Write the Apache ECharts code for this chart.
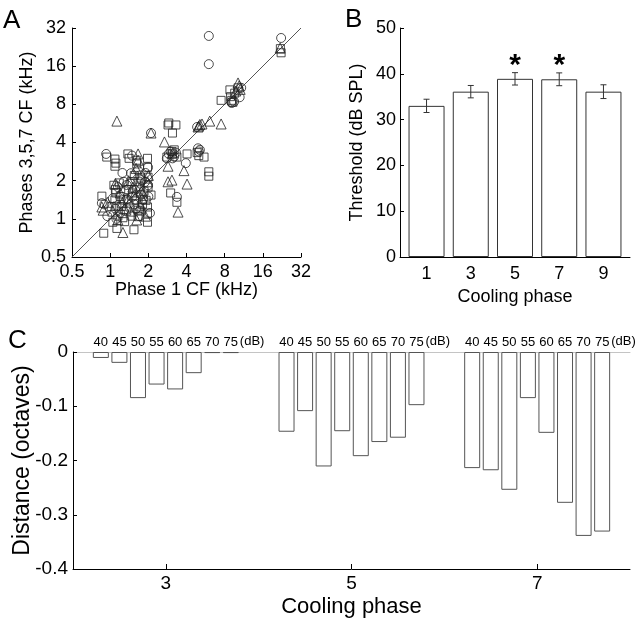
<!DOCTYPE html>
<html>
<head>
<meta charset="utf-8">
<script src="https://cdn.jsdelivr.net/npm/echarts@6/dist/echarts.min.js"></script>
<style>
  html, body { margin: 0; padding: 0; background: #fff; }
  #main { width: 637px; height: 620px; }
</style>
</head>
<body>
<div id="main"></div>
<script>
// ---- panel A: CF in phase 1 vs CF in phases 3,5,7 (kHz), one list per marker shape
const circleCF = [
  [6.0, 27.7], [6.0, 16.6], [22.3, 26.7], [0.93, 3.25], [1.49, 3.15], [1.46, 2.29], [1.72, 2.2],
  [1.99, 2.55], [1.28, 1.96], [1.36, 1.43], [1.49, 1.49], [0.86, 1.33], [1.99, 1.84], [1.81, 1.41],
  [1.57, 1.69], [1.15, 1.78], [1.77, 2.02], [1.2, 1.11], [2.06, 1.11], [2.9, 3.25], [3.0, 3.4],
  [2.8, 3.0], [3.3, 3.33], [3.95, 2.75], [3.36, 1.49], [4.93, 3.6], [5.0, 3.4], [4.85, 5.3],
  [9.0, 8.35], [9.1, 8.2], [10.5, 9.1], [0.9, 1.3], [1.1, 1.2], [1.66, 2.4], [1.9, 2.3], [1.3, 1.65],
  [2.1, 4.75], [1.12, 1.0], [1.6, 1.2], [1.75, 1.55], [3.2, 3.1], [5.1, 3.5], [10.8, 10.8],
  [9.5, 8.4], [2.0, 1.5], [1.05, 1.45], [1.25, 2.3], [1.45, 1.9], [1.7, 1.05], [1.55, 1.3],
  [1.88, 1.95], [1.35, 1.85], [0.95, 1.05], [3.1, 3.0]
];
const squareCF = [
  [0.94, 3.07], [1.09, 2.96], [1.11, 2.75], [1.09, 2.6], [1.38, 3.25], [1.41, 3.0], [0.86, 1.51],
  [0.89, 0.77], [1.07, 1.84], [1.11, 1.6], [1.09, 1.41], [1.13, 1.26], [1.05, 0.94], [1.13, 0.84],
  [1.26, 1.02], [1.49, 1.96], [1.51, 1.6], [1.54, 0.82], [1.43, 1.24], [1.62, 2.9], [1.62, 2.71],
  [1.66, 1.96], [1.72, 1.78], [1.62, 1.41], [1.66, 1.17], [1.66, 1.04], [1.97, 3.0], [1.97, 2.55],
  [1.99, 2.13], [1.99, 1.78], [2.1, 1.54], [1.97, 1.24], [1.97, 1.11], [1.97, 0.94], [1.28, 1.41],
  [2.86, 5.5], [3.3, 5.5], [3.1, 4.75], [3.0, 1.6], [3.36, 1.35], [3.07, 3.4], [3.1, 3.25],
  [2.8, 3.07], [3.36, 3.07], [4.04, 3.25], [5.0, 3.15], [5.5, 3.07], [4.85, 3.33], [6.0, 2.35],
  [6.0, 2.17], [7.5, 8.6], [8.8, 10.4], [9.1, 8.6], [10.2, 10.8], [9.3, 8.3], [22.3, 20.4],
  [22.0, 22.0], [1.2, 1.5], [1.35, 1.15], [1.8, 1.3], [1.15, 1.05], [1.3, 0.95], [1.75, 2.1],
  [2.9, 5.7], [3.2, 3.5], [1.85, 1.65], [1.1, 1.7], [1.18, 1.92], [1.4, 1.7], [1.55, 2.2],
  [1.75, 1.15], [1.92, 1.4], [1.22, 1.25], [1.48, 1.05], [1.02, 1.25], [9.6, 9.8], [8.9, 9.2]
];
const triangleCF = [
  [1.13, 5.9], [2.1, 4.75], [1.66, 3.25], [0.86, 1.24], [0.88, 1.17], [1.26, 0.78], [1.62, 0.98],
  [1.15, 0.98], [1.51, 1.78], [1.38, 1.41], [1.81, 1.6], [1.72, 1.28], [1.97, 1.96], [2.68, 4.04],
  [2.86, 2.6], [2.86, 1.96], [3.07, 2.02], [3.43, 1.13], [3.82, 2.4], [4.04, 1.88], [4.93, 5.3],
  [5.1, 5.55], [5.3, 5.6], [6.1, 5.9], [7.5, 5.6], [10.2, 11.8], [10.4, 11.2], [21.9, 22.2],
  [1.66, 2.9], [1.2, 1.6], [1.4, 2.0], [1.6, 2.5], [1.05, 1.15], [1.9, 1.05], [3.1, 3.3],
  [9.8, 10.2], [1.3, 1.2], [1.7, 1.75], [2.0, 2.2], [5.0, 5.4], [1.25, 1.35], [1.45, 1.15],
  [1.78, 1.45], [1.1, 1.9], [1.55, 1.55], [0.95, 1.35], [10.6, 10.5]
];
const unityLine = [[0.5, 0.5], [32, 32]];

// ---- panel B: threshold per cooling phase
const thresholdPhases = [1, 3, 5, 7, 9];
const thresholdMean = [33.0, 36.1, 38.9, 38.8, 36.1];
const thresholdSem = [1.45, 1.35, 1.35, 1.4, 1.5];
const sigPhases = [5, 7];

// ---- panel C: CF shift (octaves) per sound level, phases 3, 5, 7
const levelsDb = [40, 45, 50, 55, 60, 65, 70, 75];
const distPhases = [3, 5, 7];
const distPhase3 = [-0.011, -0.020, -0.085, -0.060, -0.069, -0.039, -0.002, -0.002];
const distPhase5 = [-0.147, -0.109, -0.211, -0.146, -0.192, -0.166, -0.158, -0.098];
const distPhase7 = [-0.214, -0.218, -0.254, -0.085, -0.149, -0.278, -0.339, -0.331];

const FONT = 'Liberation Sans, Arial, Helvetica, sans-serif';
const lg = v => Math.log2(v);
const toLog = pts => pts.map(p => [lg(p[0]), lg(p[1])]);

// bars of one phase are spread around the phase value
const barStep = 0.2;
const levelX = (phase, i) => phase + (i - (levelsDb.length - 1) / 2) * barStep;
const distBars = [];
const distLabels = [];
[distPhase3, distPhase5, distPhase7].forEach((vals, g) => {
  vals.forEach((v, i) => {
    distBars.push([levelX(distPhases[g], i), v]);
    distLabels.push([levelX(distPhases[g], i), 0, levelsDb[i], i === levelsDb.length - 1 ? 1 : 0]);
  });
});

const chart = echarts.init(document.getElementById('main'), null, { renderer: 'canvas' });

const txt = (size) => ({ color: '#000', fontSize: size, fontFamily: FONT });
const blackLine = { show: true, onZero: false, lineStyle: { color: '#000', width: 1 } };
const tickIn = (len) => ({ show: true, inside: true, length: len, lineStyle: { color: '#000', width: 1 } });
const hollow = { color: 'rgba(0,0,0,0)', borderColor: '#222', borderWidth: 1 };

const option = {
  animation: false,
  backgroundColor: '#fff',
  textStyle: { fontFamily: FONT },
  graphic: [
    { type: 'text', left: 3, top: 8, style: { text: 'A', fontSize: 26, fontFamily: FONT, fill: '#000' } },
    { type: 'text', left: 345, top: 7, style: { text: 'B', fontSize: 26, fontFamily: FONT, fill: '#000' } },
    { type: 'text', left: 8, top: 328, style: { text: 'C', fontSize: 26, fontFamily: FONT, fill: '#000' } }
  ],
  // fixed plot boxes; labels may hang outside them
  grid: [
    { left: 72, top: 28, width: 229, height: 229, containLabel: false, outerBoundsMode: 'none' },
    { left: 400, top: 28, width: 230, height: 229, containLabel: false, outerBoundsMode: 'none' },
    { left: 73, top: 352, width: 557, height: 217, containLabel: false, outerBoundsMode: 'none' }
  ],
  xAxis: [
    {
      gridIndex: 0, type: 'value', min: -1, max: 5, interval: 1,
      axisLine: blackLine, axisTick: tickIn(4), splitLine: { show: false },
      axisLabel: Object.assign(txt(18), { margin: 6, formatter: v => String(Math.pow(2, v)) }),
      name: 'Phase 1 CF (kHz)', nameLocation: 'middle', nameGap: 24, nameTextStyle: txt(18), nameMoveOverlap: false
    },
    {
      gridIndex: 1, type: 'value', min: -0.2, max: 10.2,
      axisLine: blackLine, axisTick: { show: false }, splitLine: { show: false },
      axisLabel: Object.assign(txt(18), { margin: 8, customValues: thresholdPhases }),
      name: 'Cooling phase', nameLocation: 'middle', nameGap: 31, nameTextStyle: txt(18), nameMoveOverlap: false
    },
    {
      gridIndex: 2, type: 'value', min: 2, max: 8,
      axisLine: blackLine, splitLine: { show: false },
      axisTick: Object.assign(tickIn(5), { customValues: distPhases }),
      axisLabel: Object.assign(txt(19), { margin: 5, customValues: distPhases }),
      name: 'Cooling phase', nameLocation: 'middle', nameGap: 27, nameTextStyle: txt(22), nameMoveOverlap: false
    },
    {
      gridIndex: 2, type: 'value', min: 2, max: 8, position: 'top',
      axisLine: { show: true, onZero: false, lineStyle: { color: '#c4c4c4', width: 1 } },
      axisTick: { show: false }, axisLabel: { show: false }, splitLine: { show: false }
    }
  ],
  yAxis: [
    {
      gridIndex: 0, type: 'value', min: -1, max: 5, interval: 1,
      axisLine: blackLine, axisTick: tickIn(4), splitLine: { show: false },
      axisLabel: Object.assign(txt(18), { margin: 6, formatter: v => String(Math.pow(2, v)) }),
      name: 'Phases 3,5,7 CF (kHz)', nameLocation: 'middle', nameGap: 36, nameTextStyle: txt(18), nameMoveOverlap: false
    },
    {
      gridIndex: 1, type: 'value', min: 0, max: 50, interval: 10,
      axisLine: blackLine, axisTick: tickIn(4), splitLine: { show: false },
      axisLabel: Object.assign(txt(18), { margin: 4 }),
      name: 'Threshold (dB SPL)', nameLocation: 'middle', nameGap: 34, nameTextStyle: txt(18), nameMoveOverlap: false
    },
    {
      gridIndex: 2, type: 'value', min: -0.4, max: 0, interval: 0.1,
      axisLine: blackLine, axisTick: tickIn(4), splitLine: { show: false },
      axisLabel: Object.assign(txt(19), { margin: 5 }),
      name: 'Distance (octaves)', nameLocation: 'middle', nameGap: 39, nameTextStyle: txt(23), nameMoveOverlap: false
    }
  ],
  series: [
    {
      type: 'line', xAxisIndex: 0, yAxisIndex: 0, data: toLog(unityLine),
      symbol: 'none', lineStyle: { color: '#555', width: 1 }, z: 1, silent: true
    },
    {
      type: 'scatter', xAxisIndex: 0, yAxisIndex: 0, data: toLog(circleCF),
      symbol: 'circle', symbolSize: 9, itemStyle: hollow
    },
    {
      type: 'scatter', xAxisIndex: 0, yAxisIndex: 0, data: toLog(squareCF),
      symbol: 'rect', symbolSize: 8, itemStyle: hollow
    },
    {
      type: 'scatter', xAxisIndex: 0, yAxisIndex: 0, data: toLog(triangleCF),
      symbol: 'triangle', symbolSize: 10, itemStyle: hollow
    },
    {
      type: 'bar', xAxisIndex: 1, yAxisIndex: 1, barWidth: 36,
      data: thresholdPhases.map((p, i) => [p, thresholdMean[i]]),
      itemStyle: { color: '#fff', borderColor: '#333', borderWidth: 1 }
    },
    {
      // error bars (mean +- sem)
      type: 'custom', xAxisIndex: 1, yAxisIndex: 1, z: 5,
      data: thresholdPhases.map((p, i) => [p, thresholdMean[i] - thresholdSem[i], thresholdMean[i] + thresholdSem[i]]),
      renderItem: function (params, api) {
        const lo = api.coord([api.value(0), api.value(1)]);
        const hi = api.coord([api.value(0), api.value(2)]);
        const cap = 3;
        const st = { stroke: '#333', lineWidth: 1 };
        return {
          type: 'group', children: [
            { type: 'line', shape: { x1: lo[0], y1: lo[1], x2: hi[0], y2: hi[1] }, style: st },
            { type: 'line', shape: { x1: lo[0] - cap, y1: lo[1], x2: lo[0] + cap, y2: lo[1] }, style: st },
            { type: 'line', shape: { x1: hi[0] - cap, y1: hi[1], x2: hi[0] + cap, y2: hi[1] }, style: st }
          ]
        };
      }
    },
    {
      // significance stars above the error bars
      type: 'custom', xAxisIndex: 1, yAxisIndex: 1, z: 5,
      data: sigPhases.map(p => {
        const i = thresholdPhases.indexOf(p);
        return [p, thresholdMean[i] + thresholdSem[i]];
      }),
      renderItem: function (params, api) {
        const pt = api.coord([api.value(0), api.value(1)]);
        return {
          type: 'text',
          style: { text: '*', x: pt[0], y: pt[1] + 8, fontSize: 30, fontWeight: 'bold', fontFamily: FONT, fill: '#000', align: 'center', verticalAlign: 'bottom' }
        };
      }
    },
    {
      type: 'bar', xAxisIndex: 2, yAxisIndex: 2, barWidth: 16, data: distBars,
      itemStyle: { color: '#fff', borderColor: '#555', borderWidth: 1 }
    },
    {
      // sound level labels above every bar
      type: 'custom', xAxisIndex: 2, yAxisIndex: 2, z: 5, data: distLabels,
      renderItem: function (params, api) {
        const pt = api.coord([api.value(0), api.value(1)]);
        const kids = [{
          type: 'text',
          style: { text: String(api.value(2)), x: pt[0], y: pt[1] - 3, fontSize: 13, fontFamily: FONT, fill: '#000', align: 'center', verticalAlign: 'bottom' }
        }];
        if (api.value(3) === 1) {
          kids.push({
            type: 'text',
            style: { text: '(dB)', x: pt[0] + 9, y: pt[1] - 4, fontSize: 13, fontFamily: FONT, fill: '#000', align: 'left', verticalAlign: 'bottom' }
          });
        }
        return { type: 'group', children: kids };
      }
    }
  ]
};

chart.setOption(option);
</script>
</body>
</html>
